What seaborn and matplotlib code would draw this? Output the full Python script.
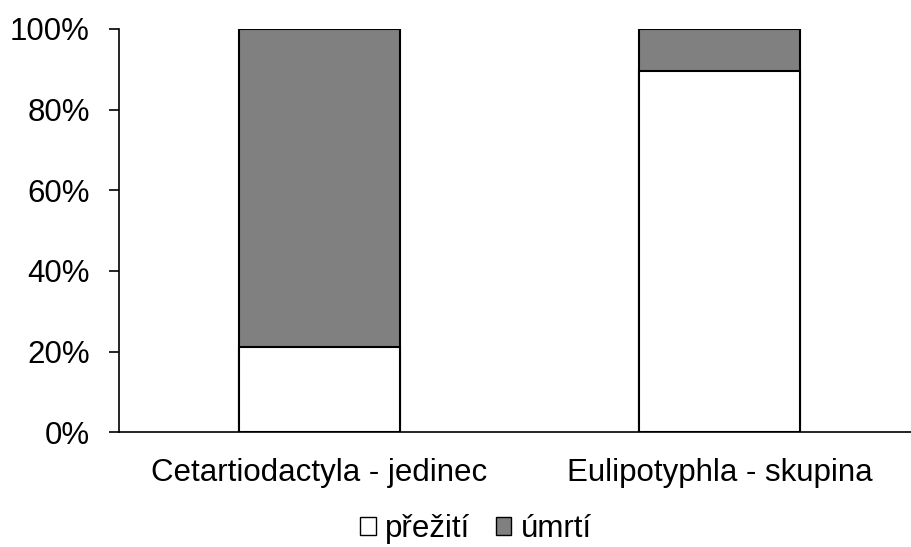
import numpy as np
import pandas as pd
import matplotlib
matplotlib.use("Agg")
import matplotlib.pyplot as plt
from matplotlib.patches import Patch
from matplotlib.ticker import PercentFormatter
import seaborn as sns

# ── Données ──────────────────────────────────────────────────────────────────
kategorie = ["Cetartiodactyla - jedinec", "Eulipotyphla - skupina"]
prezit = [21, 89.5]     # % přežití
umrti = [79, 10.5]      # % úmrtí

sns.set_style("white")
plt.rcParams["font.family"] = ["Liberation Sans", "DejaVu Sans"]
plt.rcParams["text.color"] = "black"
plt.rcParams["xtick.color"] = "black"
plt.rcParams["ytick.color"] = "black"

df = pd.DataFrame({"kategorie": kategorie, "prezit": prezit, "umrti": umrti})
df["celkem"] = df["prezit"] + df["umrti"]

FS = 22.5

fig = plt.figure(figsize=(9.12, 5.47), dpi=100)
ax = fig.add_axes([0.1305, 0.21, 0.878, 0.737])

# empilé : total gris derrière, survie blanche devant
sns.barplot(data=df, x="kategorie", y="celkem", color="#808080", saturation=1,
            width=0.402, edgecolor="black", linewidth=1.5, ax=ax)
sns.barplot(data=df, x="kategorie", y="prezit", color="white", saturation=1,
            width=0.402, edgecolor="black", linewidth=1.5, ax=ax)

ax.set_ylim(0, 100)
ax.set_xlim(-0.5, 1.5)
ax.set_yticks(np.arange(0, 101, 20))
ax.yaxis.set_major_formatter(PercentFormatter(decimals=0))
ax.set_xlabel("")
ax.set_ylabel("")
ax.tick_params(axis="y", left=True, length=7, width=1.2, labelsize=FS, pad=14)
ax.tick_params(axis="x", bottom=False, labelsize=FS, pad=15)
for s in ["top", "right"]:
    ax.spines[s].set_visible(False)
for s in ["left", "bottom"]:
    ax.spines[s].set_color("black")
    ax.spines[s].set_linewidth(1.2)

handles = [Patch(facecolor="white", edgecolor="black", linewidth=1.0, label="přežití"),
           Patch(facecolor="#808080", edgecolor="black", linewidth=1.0, label="úmrtí")]
fig.legend(handles=handles, loc="center", bbox_to_anchor=(0.522, 0.033), ncol=2,
           frameon=False, fontsize=FS, handlelength=0.5, handleheight=0.5,
           handletextpad=0.3, columnspacing=0.8)

fig.savefig("out.png", dpi=100)
plt.close(fig)
